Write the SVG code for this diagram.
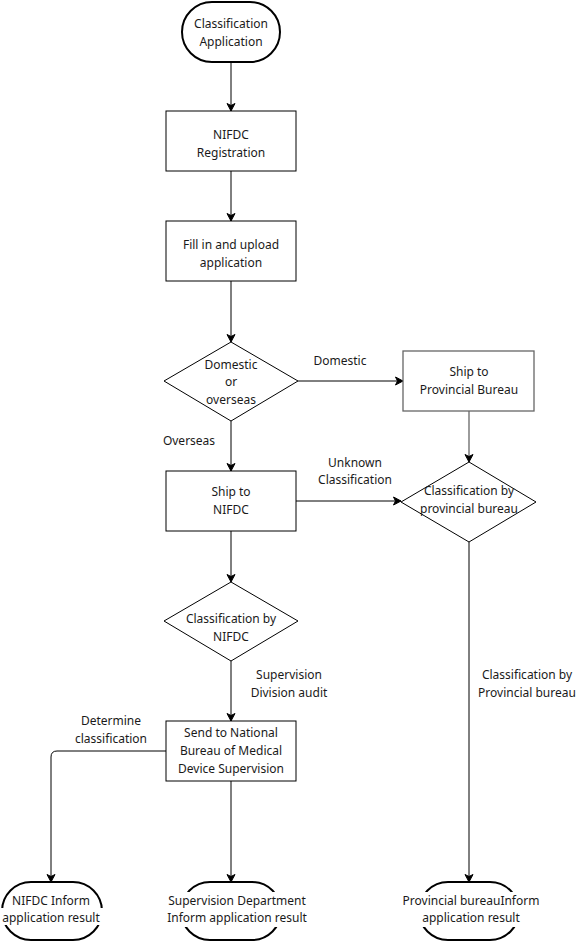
<svg xmlns="http://www.w3.org/2000/svg" width="587" height="943" viewBox="0 0 587 943">
<defs>
<marker id="arr" markerUnits="userSpaceOnUse" markerWidth="10" markerHeight="10" refX="8" refY="5" orient="auto">
<path d="M0.5,1 L8,5 L0.5,9 L2.5,5 Z" fill="#000" stroke="#000" stroke-width="1"/>
</marker>
</defs>
<style>
text{font-family:"Noto Sans","Open Sans","DejaVu Sans",sans-serif;font-size:12px;fill:#1a1a1a;text-anchor:middle}
.box{fill:#fff;stroke:#000;stroke-width:1}
.gbox{fill:#fff;stroke:#666;stroke-width:1.3}
.term{fill:#fff;stroke:#000;stroke-width:2}
.c{fill:none;stroke:#000;stroke-width:1}
.cg{fill:none;stroke:#666;stroke-width:1.3}
.bg{fill:#fff}
</style>
<rect width="587" height="943" fill="#fff"/>
<g id="connectors">
<line class="c" x1="231" y1="62" x2="231" y2="111" marker-end="url(#arr)"/>
<line class="c" x1="231" y1="171" x2="231" y2="221" marker-end="url(#arr)"/>
<line class="c" x1="231" y1="281" x2="231" y2="342" marker-end="url(#arr)"/>
<line class="c" x1="298" y1="381" x2="403" y2="381" marker-end="url(#arr)"/>
<line class="cg" x1="469" y1="411" x2="469" y2="462" marker-end="url(#arr)"/>
<line class="c" x1="231" y1="421" x2="231" y2="471" marker-end="url(#arr)"/>
<line class="c" x1="296" y1="501" x2="401" y2="501" marker-end="url(#arr)"/>
<line class="c" x1="231" y1="531" x2="231" y2="582" marker-end="url(#arr)"/>
<line class="c" x1="231" y1="661" x2="231" y2="721" marker-end="url(#arr)"/>
<path class="c" d="M166,751 L57,751 Q51,751 51,757 L51,882" marker-end="url(#arr)"/>
<line class="c" x1="231" y1="781" x2="231" y2="882" marker-end="url(#arr)"/>
<line class="c" x1="469" y1="542" x2="469" y2="882" marker-end="url(#arr)"/>
<text x="340" y="365">Domestic</text>
<text x="189" y="445">Overseas</text>
<text x="355" y="467">Unknown</text>
<text x="355" y="484">Classification</text>
<text x="289" y="679">Supervision</text>
<text x="289" y="697">Division audit</text>
<text x="111" y="725">Determine</text>
<text x="111" y="743">classification</text>
<text x="527" y="679">Classification by</text>
<text x="527" y="697">Provincial bureau</text>
</g>
<g id="start">
<rect class="term" x="182" y="2" width="98" height="60" rx="30" ry="30"/>
<text x="231" y="28">Classification</text>
<text x="231" y="46">Application</text>
</g>
<g id="nifdc-registration">
<rect class="box" x="166" y="111" width="130" height="60"/>
<text x="231" y="139">NIFDC</text>
<text x="231" y="157">Registration</text>
</g>
<g id="fill-upload">
<rect class="box" x="166" y="221" width="130" height="60"/>
<text x="231" y="249">Fill in and upload</text>
<text x="231" y="267">application</text>
</g>
<g id="domestic-overseas">
<polygon class="box" points="231,342 298,381 231,421 164,381"/>
<text x="231" y="369">Domestic</text>
<text x="231" y="386">or</text>
<text x="231" y="404">overseas</text>
</g>
<g id="ship-provincial">
<rect class="gbox" x="403" y="351" width="131" height="60"/>
<text x="469" y="376">Ship to</text>
<text x="469" y="394">Provincial Bureau</text>
</g>
<g id="classification-provincial">
<polygon class="box" points="469,462 536,502 469,542 401,502"/>
<text x="469" y="495">Classification by</text>
<text x="469" y="513">provincial bureau</text>
</g>
<g id="ship-nifdc">
<rect class="box" x="166" y="471" width="130" height="60"/>
<text x="231" y="496">Ship to</text>
<text x="231" y="514">NIFDC</text>
</g>
<g id="classification-nifdc">
<polygon class="box" points="231,582 298,621 231,661 164,621"/>
<text x="231" y="623">Classification by</text>
<text x="231" y="641">NIFDC</text>
</g>
<g id="send-national">
<rect class="box" x="166" y="721" width="130" height="60"/>
<text x="231" y="737">Send to National</text>
<text x="231" y="755">Bureau of Medical</text>
<text x="231" y="773">Device Supervision</text>
</g>
<g id="nifdc-inform">
<rect class="term" x="2" y="882" width="100" height="58" rx="29" ry="29"/>
<rect class="bg" x="0" y="908" width="104" height="17"/>
<text x="51" y="905">NIFDC Inform</text>
<text x="51" y="922">application result</text>
</g>
<g id="supervision-inform">
<rect class="term" x="181" y="882" width="100" height="58" rx="29" ry="29"/>
<rect class="bg" x="167" y="892" width="140" height="35"/>
<text x="237" y="905">Supervision Department</text>
<text x="237" y="922">Inform application result</text>
</g>
<g id="provincial-inform">
<rect class="term" x="419" y="882" width="100" height="58" rx="29" ry="29"/>
<rect class="bg" x="402" y="892" width="138" height="35"/>
<text x="471" y="905">Provincial bureauInform</text>
<text x="471" y="922">application result</text>
</g>
</svg>
